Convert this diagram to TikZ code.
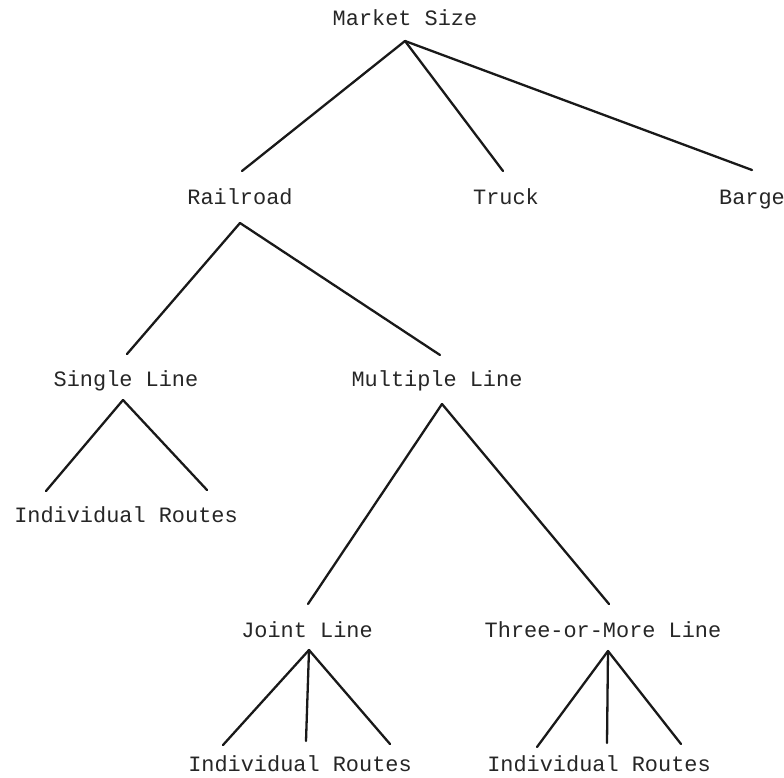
\documentclass[tikz,border=0pt]{standalone}
\usepackage{fontspec}
\setmonofont{Liberation Mono}
\begin{document}
\begin{tikzpicture}[x=1pt,y=-1pt,
  lbl/.style={font=\fontsize{21.9}{24}\ttfamily, inner sep=0pt, text height=0.58em, text depth=0pt, anchor=center, text=black!85},
  edge/.style={line width=2.3pt, line cap=round, black!90}]
\useasboundingbox (0,0) rectangle (784,777);
% labels
\node[lbl] (ms) at (405,23) {Market Size};
\node[lbl] (rr) at (240,202) {Railroad};
\node[lbl] (tr) at (506,202) {Truck};
\node[lbl] (bg) at (752,202) {Barge};
\node[lbl] (sl) at (126,384) {Single Line};
\node[lbl] (ml) at (437,384) {Multiple Line};
\node[lbl] (ir1) at (126,520) {Individual Routes};
\node[lbl] (jl) at (307,635) {Joint Line};
\node[lbl] (tm) at (603,635) {Three-or-More Line};
\node[lbl] (ir2) at (300,769) {Individual Routes};
\node[lbl] (ir3) at (599,769) {Individual Routes};
% apex and end points
\coordinate (msA) at (405,41);
\coordinate (rrT) at (242,171);
\coordinate (trT) at (503,171);
\coordinate (bgT) at (752,170);
\coordinate (rrA) at (240,223);
\coordinate (slT) at (127,354);
\coordinate (mlT) at (440,355);
\coordinate (slA) at (123,400);
\coordinate (ir1L) at (46,491);
\coordinate (ir1R) at (207,490);
\coordinate (mlA) at (442,404);
\coordinate (jlT) at (308,604);
\coordinate (tmT) at (609,604);
\coordinate (jlA) at (309,650);
\coordinate (ir2L) at (223,745);
\coordinate (ir2M) at (306,741);
\coordinate (ir2R) at (390,744);
\coordinate (tmA) at (608,651);
\coordinate (ir3L) at (537,747);
\coordinate (ir3M) at (607,743);
\coordinate (ir3R) at (681,744);
% connectors
\draw[edge] (msA) -- (rrT);
\draw[edge] (msA) -- (trT);
\draw[edge] (msA) -- (bgT);
\draw[edge] (rrA) -- (slT);
\draw[edge] (rrA) -- (mlT);
\draw[edge] (slA) -- (ir1L);
\draw[edge] (slA) -- (ir1R);
\draw[edge] (mlA) -- (jlT);
\draw[edge] (mlA) -- (tmT);
\draw[edge] (jlA) -- (ir2L);
\draw[edge] (jlA) -- (ir2M);
\draw[edge] (jlA) -- (ir2R);
\draw[edge] (tmA) -- (ir3L);
\draw[edge] (tmA) -- (ir3M);
\draw[edge] (tmA) -- (ir3R);
\end{tikzpicture}
\end{document}
